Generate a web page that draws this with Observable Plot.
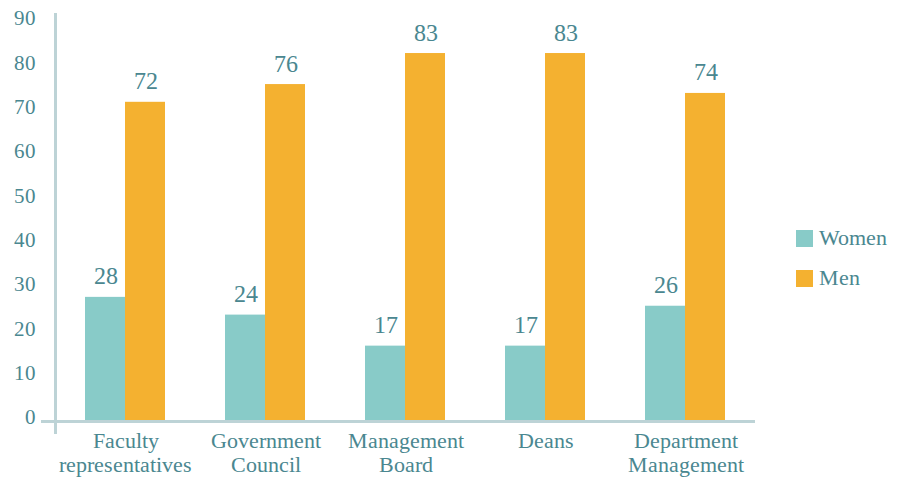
<!DOCTYPE html>
<html>
<head>
<meta charset="utf-8">
<script src="https://cdn.jsdelivr.net/npm/d3@7"></script>
<script src="https://cdn.jsdelivr.net/npm/@observablehq/plot@0.6"></script>
<style>
  @font-face { font-family: "ChartSerif"; src: local("Liberation Serif"), local("LiberationSerif"), local("LiberationSerif-Regular"), local("DejaVu Serif"); }
  html, body { margin: 0; padding: 0; background: #fff; }
  #wrap { position: relative; width: 899px; height: 479px; font-family: "ChartSerif", "Liberation Serif", serif; }
  #legend { position: absolute; left: 796px; top: 227px; color: #4a8790; font-size: 22px; }
  #legend .item { display: flex; align-items: center; height: 22px; margin-bottom: 18px; }
  #legend .sw { width: 17px; height: 17px; margin-right: 6px; }
</style>
</head>
<body>
<div id="wrap"><div id="legend"></div></div>
<script>
const categories = ["Faculty\nrepresentatives", "Government\nCouncil", "Management\nBoard", "Deans", "Department\nManagement"];
const series = ["Women", "Men"];
const women = [28, 24, 17, 17, 26];
const men = [72, 76, 83, 83, 74];
const yTicks = [0, 10, 20, 30, 40, 50, 60, 70, 80, 90];
const colors = ["#88cbc8", "#f4b130"];
const textColor = "#4a8790";
const axisColor = "#bdd3d6";
const serif = "ChartSerif, 'Liberation Serif', serif";

const data = [];
categories.forEach((c, i) => {
  data.push({category: c, series: "Women", value: women[i]});
  data.push({category: c, series: "Men", value: men[i]});
});

const plot = Plot.plot({
  width: 899,
  height: 479,
  marginLeft: 55,
  marginRight: 144,
  marginTop: 22,
  marginBottom: 58,
  style: {background: "#fff"},
  fx: {domain: categories, paddingInner: 0.43, paddingOuter: 0.215, label: null},
  x: {domain: series, padding: 0, axis: null, label: null},
  y: {domain: [0, 90], label: null},
  color: {domain: series, range: colors},
  marks: [
    Plot.barY(data, {fx: "category", x: "series", y: "value", fill: "series"}),
    Plot.text(data, {fx: "category", x: "series", y: "value", text: d => String(d.value), dy: -13, lineAnchor: "bottom", fontSize: 24, fontFamily: serif, fill: textColor}),
    Plot.frame({anchor: "bottom", facet: "super", stroke: axisColor, strokeWidth: 3, insetLeft: -43, insetRight: -28}),
    Plot.frame({anchor: "left", facet: "super", stroke: axisColor, strokeWidth: 3, insetLeft: -30, insetTop: -8, insetBottom: -11}),
    Plot.axisY(yTicks, {tickSize: 0, tickPadding: 50, fontSize: 21, fontFamily: serif, fill: textColor, dy: -4, label: null}),
    Plot.axisFx({anchor: "bottom", tickSize: 0, tickPadding: 9, fontSize: 22, fontFamily: serif, lineHeight: 1.1, fill: textColor, label: null})
  ]
});
plot.setAttribute("font-family", serif);

document.getElementById("wrap").prepend(plot);
plot.style.position = "absolute";
plot.style.left = "0";
plot.style.top = "0";

const legend = document.getElementById("legend");
series.forEach((s, i) => {
  const item = document.createElement("div");
  item.className = "item";
  const sw = document.createElement("div");
  sw.className = "sw";
  sw.style.background = colors[i];
  const t = document.createElement("span");
  t.textContent = s;
  item.append(sw, t);
  legend.append(item);
});
</script>
</body>
</html>
